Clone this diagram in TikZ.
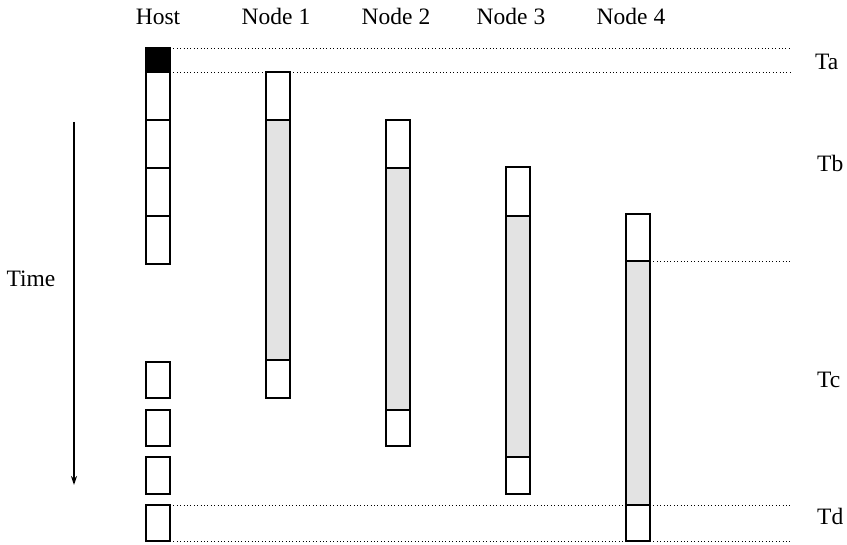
\documentclass[tikz,border=0pt]{standalone}
\usepackage{fontspec}
\setmainfont{Liberation Serif}
\usetikzlibrary{arrows.meta}
\begin{document}
\begin{tikzpicture}[x=1pt,y=-1pt,
  cellbase/.style={draw=black,line width=1.4pt,rectangle,inner sep=0pt,outer sep=0pt,minimum width=24pt},
  white cell/.style={cellbase,fill=white},
  busy cell/.style={cellbase,fill=black!11},
  black cell/.style={cellbase,fill=black},
  guide/.style={line width=0.9pt,dash pattern=on 1pt off 2.4pt},
  lbl/.style={font=\fontsize{23.5}{27}\selectfont,anchor=base,inner sep=0pt},
  tlbl/.style={font=\fontsize{23.5}{27}\selectfont,anchor=base west,inner sep=0pt},
  timearrow/.style={line width=1.4pt,-{Stealth[length=9pt,width=6pt]}}]
\useasboundingbox (0,0) rectangle (847,545);
% headers
\node[lbl] (hHost) at (158,25) {Host};
\node[lbl] (hN1) at (276,25) {Node 1};
\node[lbl] (hN2) at (396,25) {Node 2};
\node[lbl] (hN3) at (511,25) {Node 3};
\node[lbl] (hN4) at (631,25) {Node 4};
% time
\node[lbl] (time) at (31,287) {Time};
\coordinate (ts) at (74,122);
\coordinate (te) at (74,485);
\draw[timearrow] (ts) -- (te);
% host
\node[black cell,minimum height=24pt] (h0) at (158,60) {};
\node[white cell,minimum height=48pt] (h1) at (158,96) {};
\node[white cell,minimum height=48pt] (h2) at (158,144) {};
\node[white cell,minimum height=48pt] (h3) at (158,192) {};
\node[white cell,minimum height=48pt] (h4) at (158,240) {};
\node[white cell,minimum height=36pt] (h5) at (158,380) {};
\node[white cell,minimum height=36pt] (h6) at (158,428) {};
\node[white cell,minimum height=37pt] (h7) at (158,475.5) {};
\node[white cell,minimum height=36pt] (h8) at (158,523) {};
% node 1
\node[white cell,minimum height=48pt] (n1a) at (278,96) {};
\node[busy cell,minimum height=240pt] (n1b) at (278,240) {};
\node[white cell,minimum height=38pt] (n1c) at (278,379) {};
% node 2
\node[white cell,minimum height=48pt] (n2a) at (398,144) {};
\node[busy cell,minimum height=242pt] (n2b) at (398,289) {};
\node[white cell,minimum height=36pt] (n2c) at (398,428) {};
% node 3
\node[white cell,minimum height=49pt] (n3a) at (518,191.5) {};
\node[busy cell,minimum height=241pt] (n3b) at (518,336.5) {};
\node[white cell,minimum height=37pt] (n3c) at (518,475.5) {};
% node 4
\node[white cell,minimum height=47pt] (n4a) at (638,237.5) {};
\node[busy cell,minimum height=244pt] (n4b) at (638,383) {};
\node[white cell,minimum height=36pt] (n4c) at (638,523) {};
% guide lines
\coordinate (ga) at (790,48);
\coordinate (gb) at (790,72);
\coordinate (gc) at (790,261);
\coordinate (gd) at (790,505);
\coordinate (ge) at (790,541);
\draw[guide] (h0.north east) -- (ga);
\draw[guide] (h0.south east) -- (n1a.north west);
\draw[guide] (n1a.north east) -- (gb);
\draw[guide] (n4a.south east) -- (gc);
\draw[guide] (h8.north east) -- (n4c.north west);
\draw[guide] (n4c.north east) -- (gd);
\draw[guide] (h8.south east) -- (n4c.south west);
\draw[guide] (n4c.south east) -- (ge);
% time marks
\node[tlbl] (ta) at (815,70) {Ta};
\node[tlbl] (tb) at (817,172) {Tb};
\node[tlbl] (tc) at (817,388) {Tc};
\node[tlbl] (td) at (817,525) {Td};
\end{tikzpicture}
\end{document}
